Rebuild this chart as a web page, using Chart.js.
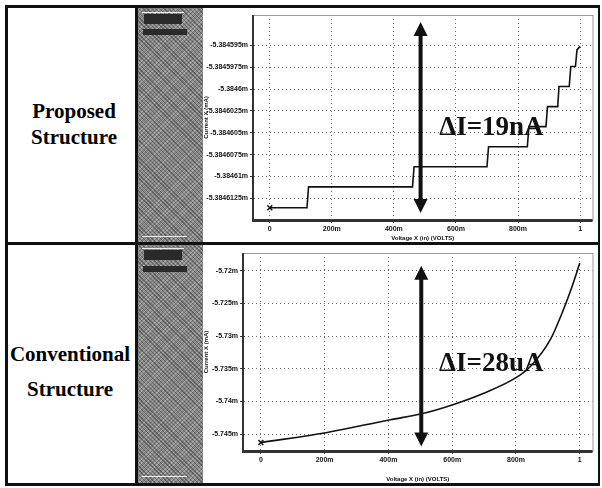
<!DOCTYPE html>
<html>
<head>
<meta charset="utf-8">
<script src="https://cdn.jsdelivr.net/npm/chart.js@4.4.1/dist/chart.umd.min.js"></script>
<style>
  body { margin: 0; background: #fff; width: 602px; height: 488px; position: relative; overflow: hidden; }
  .bar { position: absolute; background: #111; }
  .label { position: absolute; left: 10px; width: 128px; text-align: center; font-family: "Liberation Serif", serif; font-weight: bold; font-size: 21px; color: #000; line-height: 1; }
  .side { position: absolute; background-color: #858585;
    background-image: repeating-linear-gradient(45deg, rgba(0,0,0,.3) 0 1px, transparent 1px 3px),
                      repeating-linear-gradient(-45deg, rgba(255,255,255,.28) 0 1px, transparent 1px 3px); }
  .head { position: absolute; background: #2a2a2a; }
  .wline { position: absolute; background: #eee; height: 1px; }
  .panel { position: absolute; background: #fff; }
</style>
</head>
<body>
<!-- frame -->
<div class="bar" style="left:5px;top:5px;width:595px;height:3px"></div>
<div class="bar" style="left:5px;top:483px;width:595px;height:3px"></div>
<div class="bar" style="left:5px;top:5px;width:3px;height:481px"></div>
<div class="bar" style="left:598px;top:5px;width:2px;height:481px"></div>
<div class="bar" style="left:135px;top:5px;width:3px;height:481px"></div>
<div class="bar" style="left:5px;top:242px;width:595px;height:3px"></div>

<div class="label" style="top:101px">Proposed</div>
<div class="label" style="top:127px">Structure</div>
<div class="label" style="top:344px;left:6px">Conventional</div>
<div class="label" style="top:379px;left:6px">Structure</div>

<!-- grey side panels -->
<div class="side" style="left:138px;top:8px;width:65px;height:234px"></div>
<div class="head" style="left:144px;top:14px;width:38px;height:10px"></div>
<div class="wline" style="left:142px;top:12px;width:42px"></div>
<div class="head" style="left:143px;top:29px;width:44px;height:6px"></div>
<div class="wline" style="left:142px;top:236px;width:45px"></div>
<div class="side" style="left:138px;top:245px;width:65px;height:238px"></div>
<div class="head" style="left:144px;top:250px;width:38px;height:10px"></div>
<div class="wline" style="left:142px;top:248px;width:42px"></div>
<div class="head" style="left:143px;top:266px;width:44px;height:6px"></div>
<div class="wline" style="left:142px;top:476px;width:45px"></div>

<div class="panel" style="left:203px;top:8px;width:395px;height:234px"><canvas id="topChart"></canvas></div>
<div class="panel" style="left:203px;top:245px;width:395px;height:238px"><canvas id="bottomChart"></canvas></div>

<script>
// x-axis (voltage, V)
const xTicks = [0, 0.2, 0.4, 0.6, 0.8, 1];
const xTickLabels = ['0', '200m', '400m', '600m', '800m', '1'];

// proposed structure: stepped current (mA)
const propVoltage = [0, 0.12, 0.125, 0.46, 0.465, 0.70, 0.705, 0.83, 0.835, 0.89, 0.895, 0.928, 0.932, 0.965, 0.97, 0.985, 0.99, 1.0];
const propCurrent = [-5.3846136, -5.3846136, -5.3846112, -5.3846112, -5.3846089, -5.3846089, -5.3846066, -5.3846066, -5.3846043, -5.3846043, -5.384602, -5.384602, -5.3845997, -5.3845997, -5.3845974, -5.3845974, -5.3845955, -5.3845951];
const propYTicks = [-5.384595, -5.3845975, -5.3846, -5.3846025, -5.384605, -5.3846075, -5.38461, -5.3846125];

// conventional structure: smooth current (mA)
const convVoltage = [0, 0.204, 0.406, 0.504, 0.602, 0.701, 0.799, 0.846, 0.908, 0.949, 0.980, 1.0];
const convCurrent = [-5.7463, -5.7448, -5.7428, -5.7419, -5.7405, -5.7387, -5.7364, -5.7346, -5.7305, -5.7259, -5.7218, -5.7188];
const convYTicks = [-5.72, -5.725, -5.73, -5.735, -5.74, -5.745];

function fmtM(v) {
  return parseFloat(v.toFixed(8)).toString() + 'm';
}

// double arrow + delta label, placed in data units
const arrowPlugin = {
  id: 'deltaArrow',
  afterDatasetsDraw(chart, args, o) {
    const { ctx, scales: { x, y } } = chart;
    const ax = x.getPixelForValue(o.x);
    const y1 = y.getPixelForValue(o.yTop);
    const y2 = y.getPixelForValue(o.yBottom);
    ctx.save();
    ctx.fillStyle = '#111';
    ctx.fillRect(ax - 2, y1 + 10, 4, y2 - y1 - 20);
    ctx.beginPath();
    ctx.moveTo(ax, y1); ctx.lineTo(ax + 7, y1 + 14); ctx.lineTo(ax - 7, y1 + 14); ctx.closePath();
    ctx.moveTo(ax, y2); ctx.lineTo(ax + 7, y2 - 14); ctx.lineTo(ax - 7, y2 - 14); ctx.closePath();
    ctx.fill();
    ctx.font = 'bold 27px "Liberation Serif"';
    ctx.textBaseline = 'middle';
    ctx.fillText(o.text, x.getPixelForValue(o.textX), y.getPixelForValue(o.textY));
    ctx.restore();
  }
};

// frame around the plot area
const framePlugin = {
  id: 'frame',
  afterDraw(chart) {
    const { ctx, chartArea: a } = chart;
    ctx.save();
    ctx.strokeStyle = '#999';
    ctx.lineWidth = 1;
    ctx.strokeRect(a.left + 0.5, a.top + 0.5, a.right - a.left, a.bottom - a.top);
    ctx.fillStyle = '#333';
    ctx.fillRect(a.left - 1, a.top, 2, a.bottom - a.top);
    ctx.fillRect(a.left - 1, a.bottom - 1, a.right - a.left + 1, 3);
    ctx.restore();
  }
};

function makeChart(id, xs, ys, yTicks, yMin, yMax, xMin, xMax, yWidth, xHeight, arrow, pad) {
  const pts = xs.map((v, i) => ({ x: v, y: ys[i] }));
  return new Chart(document.getElementById(id), {
    type: 'line',
    data: {
      datasets: [{
        data: pts,
        borderColor: '#111',
        borderWidth: 1.6,
        tension: arrow.smooth ? 0.4 : 0,
        cubicInterpolationMode: arrow.smooth ? 'monotone' : 'default',
        pointStyle: 'crossRot',
        pointRadius: c => c.dataIndex === 0 ? 3.5 : 0,
        pointBorderColor: '#111',
        pointBorderWidth: 1.5
      }]
    },
    options: {
      responsive: true,
      maintainAspectRatio: false,
      animation: false,
      layout: { padding: { top: pad, right: 0, left: 0, bottom: 0 } },
      plugins: {
        legend: { display: false },
        tooltip: { enabled: false },
        deltaArrow: arrow
      },
      scales: {
        x: {
          type: 'linear',
          min: xMin, max: xMax,
          afterBuildTicks: s => { s.ticks = xTicks.map(v => ({ value: v })); },
          afterFit: s => { s.height = xHeight; },
          ticks: {
            callback: (v) => xTickLabels[xTicks.indexOf(v)] ?? '',
            font: { size: 7, weight: 'bold', family: 'Liberation Sans' },
            color: '#111', padding: 2, maxRotation: 0
          },
          grid: { color: '#666', tickLength: 3, tickColor: '#333', tickBorderDash: [] },
          border: { display: true, color: '#333', dash: [1, 3] },
          title: {
            display: true, text: 'Voltage X (in) (VOLTS)', padding: 0,
            font: { size: 6, weight: 'bold', family: 'Liberation Sans' }, color: '#111'
          }
        },
        y: {
          min: yMin, max: yMax,
          afterBuildTicks: s => { s.ticks = yTicks.map(v => ({ value: v })); },
          afterFit: s => { s.width = yWidth; },
          ticks: {
            callback: v => fmtM(v),
            font: { size: 7, weight: 'bold', family: 'Liberation Sans' },
            color: '#111', padding: 2
          },
          grid: { color: '#666', tickLength: 3, tickColor: '#333', tickBorderDash: [] },
          border: { display: true, color: '#333', dash: [1, 3] },
          title: {
            display: true, text: 'Current X (mA)', padding: 0,
            font: { size: 6, weight: 'bold', family: 'Liberation Sans' }, color: '#111'
          }
        }
      }
    },
    plugins: [arrowPlugin, framePlugin]
  });
}

makeChart('topChart', propVoltage, propCurrent, propYTicks,
  -5.384615, -5.3845915, -0.054, 1.04, 50, 22,
  { x: 0.486, yTop: -5.3845923, yBottom: -5.3846142, text: 'ΔI=19nA', textX: 0.546, textY: -5.3846044, smooth: false }, 7);

makeChart('bottomChart', convVoltage, convCurrent, convYTicks,
  -5.7476, -5.71725, -0.056, 1.04, 40, 32,
  { x: 0.503, yTop: -5.7192, yBottom: -5.7469, text: 'ΔI=28uA', textX: 0.559, textY: -5.7343, smooth: true }, 8);
</script>
</body>
</html>
